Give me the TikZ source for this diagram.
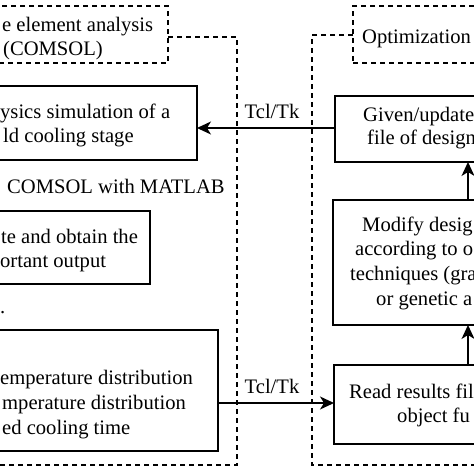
\documentclass[tikz,border=0pt]{standalone}
\usepackage{fontspec}
\setmainfont{Liberation Serif}
\usetikzlibrary{arrows.meta,calc}
\begin{document}
\begin{tikzpicture}[x=1pt,y=-1pt,
  box/.style={draw, line width=1.5pt, inner sep=0pt, outer sep=0pt},
  dbox/.style={draw, line width=1.5pt, dash pattern=on 5pt off 4pt, inner sep=0pt, outer sep=0pt},
  dline/.style={line width=1.5pt, dash pattern=on 5pt off 4pt},
  arr/.style={line width=1.5pt, -{Stealth[length=14pt,width=13pt,inset=4pt]}},
  txt/.style={anchor=base west, inner sep=0pt, font=\fontsize{20.6}{24}\selectfont},
  lbl/.style={anchor=base, inner sep=0pt, font=\fontsize{20.6}{24}\selectfont}]
\useasboundingbox (0,0) rectangle (474,474);
\fill[white] (0,0) rectangle (474,474);
\clip (0,0) rectangle (474,474);

% label boxes
\node[dbox, minimum width=178pt, minimum height=57pt] (LL) at (79,34.5) {};
\node[dbox, minimum width=131pt, minimum height=57pt] (RL) at (418.5,34.5) {};
\node[txt] (tLL1) at (2,31) {e element analysis};
\node[txt] (tLL2) at (3,55) {(COMSOL)};
\node[txt] (tRL) at (362,43) {Optimization};

% outer dashed regions
\coordinate (lo) at (237,37);
\coordinate (ro) at (312,35);
\draw[dline] (LL.east |- lo) -- (lo) -- (237,465) -- (-10,465);
\draw[dline] (RL.west |- ro) -- (ro) -- (312,465) -- (484,465);

% left boxes
\node[box, minimum width=207pt, minimum height=74pt] (L1) at (93.5,123) {};
\node[txt] (tL1a) at (0,118) {ysics simulation of a};
\node[txt] (tL1b) at (3,142) {ld cooling stage};

\node[txt] (tCM) at (7,193) {COMSOL with MATLAB};

\node[box, minimum width=160pt, minimum height=73pt] (L2) at (70,247.5) {};
\node[txt] (tL2a) at (1,243) {te and obtain the};
\node[txt] (tL2b) at (0,267) {ortant output};

\node[txt] (tdot) at (0,313) {.};

\node[box, minimum width=228pt, minimum height=121pt] (L3) at (104,390.5) {};
\node[txt] (tL3a) at (0,384) {emperature distribution};
\node[txt] (tL3b) at (2,409) {mperature distribution};
\node[txt] (tL3c) at (2,434) {ed cooling time};

% right boxes
\node[box, minimum width=149pt, minimum height=66pt] (R1) at (409.5,129) {};
\node[txt] (tR1a) at (363,121) {Given/update};
\node[txt] (tR1b) at (367,144) {file of design};

\node[box, minimum width=151pt, minimum height=125pt] (R2) at (408.5,262.5) {};
\node[txt] (tR2a) at (362,231) {Modify desig};
\node[txt] (tR2b) at (355,255) {according to o};
\node[txt] (tR2c) at (350,280) {techniques (gra};
\node[txt] (tR2d) at (376,305) {or genetic a};

\node[box, minimum width=150pt, minimum height=79pt] (R3) at (409,404.5) {};
\node[txt] (tR3a) at (349,398) {Read results fil};
\node[txt] (tR3b) at (397,422) {object fu};

% connectors
\draw[arr] (R1.west |- 0,128) -- (L1.east |- 0,128);
\node[lbl] (tk1) at (272,118) {Tcl/Tk};
\draw[arr] (L3.east |- 0,403) -- (R3.west |- 0,403);
\node[lbl] (tk2) at (272,393) {Tcl/Tk};

\draw[arr] ([xshift=-16pt]R2.north east) -- ([xshift=-16pt]R2.north east |- R1.south);
\draw[arr] ([xshift=-16pt]R3.north east) -- ([xshift=-16pt]R3.north east |- R2.south);
\end{tikzpicture}
\end{document}
